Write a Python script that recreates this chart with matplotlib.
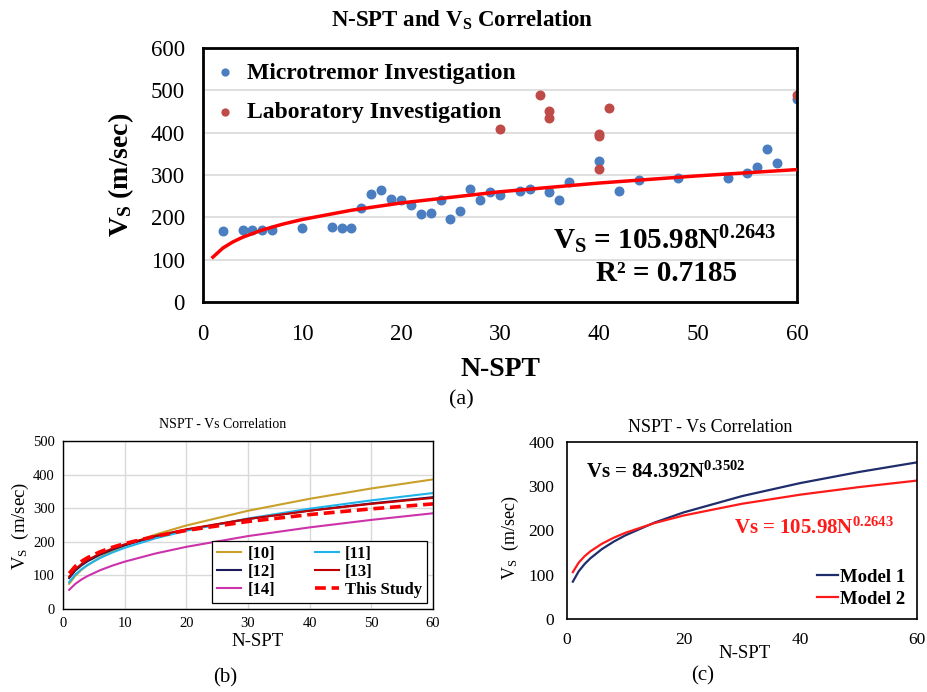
import matplotlib
matplotlib.use("Agg")
import matplotlib.pyplot as plt

plt.rcParams['font.family'] = ['Liberation Serif', 'DejaVu Serif']
plt.rcParams['mathtext.fontset'] = 'custom'
plt.rcParams['mathtext.rm'] = 'Liberation Serif'
plt.rcParams['mathtext.bf'] = 'Liberation Serif:bold'
plt.rcParams['mathtext.it'] = 'Liberation Serif:italic'

# ---- (a) field data ----
micro_n = [2, 4, 5, 6, 7, 10, 13, 14, 15, 16, 17, 18, 19, 20, 21, 22, 23, 24, 25, 26,
           27, 28, 29, 30, 32, 33, 35, 36, 37, 40, 42, 44, 48, 53, 55, 56, 57, 58, 60]
micro_vs = [168, 169, 171, 169, 170, 174, 177, 175, 175, 223, 255, 265, 243, 240, 228, 207,
            210, 241, 196, 214, 266, 242, 260, 252, 262, 268, 260, 240, 283, 334, 263, 289,
            293, 293, 305, 318, 362, 329, 479]
lab_n = [30, 34, 35, 35, 40, 40, 40, 41, 60]
lab_vs = [408, 488, 452, 435, 397, 393, 314, 458, 488]

# curve sample points (N) and Vs read at those points
curve_n = [1, 2, 3, 4, 6, 8, 10, 15, 20, 30, 40, 50, 60]
this_study = [106.0, 127.3, 141.7, 152.9, 170.2, 183.6, 194.8, 216.8, 233.9, 260.4, 281.0, 298.0, 312.8]
ref10 = [75.0, 99.0, 116.4, 130.6, 153.6, 172.3, 188.4, 221.6, 248.6, 292.4, 328.0, 358.7, 385.7]
ref11 = [80.0, 102.5, 118.4, 131.2, 151.7, 168.1, 182.0, 210.4, 233.1, 269.4, 298.5, 323.3, 345.1]
ref12 = [92.0, 114.4, 129.9, 142.2, 161.5, 176.7, 189.6, 215.3, 235.7, 267.7, 293.0, 314.2, 332.8]
ref13 = [96.0, 118.3, 133.8, 145.9, 164.9, 179.9, 192.4, 217.5, 237.2, 268.1, 292.5, 312.9, 330.6]
ref14 = [57.0, 74.8, 87.8, 98.3, 115.3, 129.1, 140.9, 165.2, 185.0, 217.0, 242.9, 265.2, 284.9]
model1 = [84.4, 107.6, 124.0, 137.1, 158.1, 174.8, 189.0, 217.9, 240.9, 277.7, 307.2, 332.1, 354.0]
model2 = this_study

W, H = 928, 692
fig = plt.figure(figsize=(W / 100, H / 100), dpi=100)

def frac(x, y):
    return x / W, 1 - y / H

# ================= (a) =================
ax = fig.add_axes([203 / W, 1 - 302 / H, 594 / W, 254 / H])
ax.scatter(micro_n, micro_vs, s=38, color='#4A7EC0', zorder=2, label='Microtremor Investigation')
ax.scatter(lab_n, lab_vs, s=38, color='#BE4B48', zorder=2.5, label='Laboratory Investigation')
ax.plot(curve_n, this_study, color='#FF0000', lw=2.5, zorder=3)
ax.set_xlim(0, 60)
ax.set_ylim(0, 600)
ax.set_xticks(range(0, 61, 10))
ax.set_yticks(range(0, 601, 100))
ax.yaxis.grid(True, color='#D9D9D9', lw=1.2)
ax.set_axisbelow(True)
ax.tick_params(axis='y', length=0, labelsize=16.5, pad=13)
ax.tick_params(axis='x', length=0, labelsize=16.5, pad=16)
for s in ax.spines.values():
    s.set_color('black')
    s.set_linewidth(2)
ax.legend(loc='upper left', frameon=False, prop={'weight': 'bold', 'size': 17},
          handletextpad=-0.1, labelspacing=0.75, borderaxespad=0.3, markerscale=0.8,
          bbox_to_anchor=(-0.03, 1.01))
ax.text(35.4, 147, r"$\mathbf{V_S}$ = 105.98$\mathbf{N^{0.2643}}$", fontsize=21,
        fontweight='bold', ha='left', va='center')
ax.text(46.8, 68, "R² = 0.7185", fontsize=21, fontweight='bold', ha='center', va='center')

fig.text(*frac(462, 20), r"N-SPT and $\mathbf{V_S}$ Correlation", fontsize=16.5,
         fontweight='bold', ha='center', va='center')
fig.text(*frac(500, 369), "N-SPT", fontsize=20, fontweight='bold', ha='center', va='center')
fig.text(*frac(121, 175), r"$\mathbf{V_S}$ (m/sec)", fontsize=20, fontweight='bold',
         ha='center', va='center', rotation=90)
fig.text(*frac(461, 400), "(a)", fontsize=16, ha='center', va='center')

# ================= (b) =================
axb = fig.add_axes([63 / W, 1 - 609 / H, 370 / W, 168 / H])
axb.plot(curve_n, ref10, color='#C9A02C', lw=1.5, label='[10]')
axb.plot(curve_n, ref12, color='#1C1C5C', lw=1.5, label='[12]')
axb.plot(curve_n, ref14, color='#CC33AA', lw=1.5, label='[14]')
axb.plot(curve_n, ref11, color='#1EB4EA', lw=1.5, label='[11]')
axb.plot(curve_n, ref13, color='#C00000', lw=1.5, label='[13]')
axb.plot(curve_n, this_study, color='#FF0000', lw=2.6, ls=(0, (3, 1.6)), label='This Study')
axb.set_xlim(0, 60)
axb.set_ylim(0, 500)
axb.set_xticks(range(0, 61, 10))
axb.set_yticks(range(0, 501, 100))
axb.grid(True, color='#D9D9D9', lw=1)
axb.set_axisbelow(True)
axb.tick_params(length=0, labelsize=10.5, pad=6)
for s in axb.spines.values():
    s.set_color('black')
    s.set_linewidth(1)
lg = axb.legend(loc='lower right', ncol=2, prop={'weight': 'bold', 'size': 12},
                fancybox=False, edgecolor='black', framealpha=1, handlelength=1.45,
                handletextpad=0.35, columnspacing=2.4, labelspacing=0.12,
                borderaxespad=0.35, borderpad=0.3)
lg.get_frame().set_linewidth(0.9)
fig.text(*frac(223, 425), "NSPT - Vs Correlation", fontsize=10, ha='center', va='center')
fig.text(*frac(258, 641), "N-SPT", fontsize=13.5, ha='center', va='center')
fig.text(*frac(20, 526), r"V$_\mathrm{S}$  (m/sec)", fontsize=13.5, ha='center', va='center',
         rotation=90)
fig.text(*frac(225, 678), "(b)", fontsize=15, ha='center', va='center')

# ================= (c) =================
axc = fig.add_axes([567 / W, 1 - 619 / H, 350 / W, 177 / H])
axc.plot(curve_n, model1, color='#1F2D6B', lw=1.6, label='Model 1')
axc.plot(curve_n, model2, color='#FF1A1A', lw=1.6, label='Model 2')
axc.set_xlim(0, 60)
axc.set_ylim(0, 400)
axc.set_xticks(range(0, 61, 20))
axc.set_yticks(range(0, 401, 100))
axc.tick_params(length=0, labelsize=12.5, pad=9)
for s in axc.spines.values():
    s.set_color('black')
    s.set_linewidth(1.2)
axc.legend(loc='lower right', frameon=False, prop={'weight': 'bold', 'size': 13.5},
           handlelength=1.1, handletextpad=0.15, labelspacing=0.25, borderaxespad=0.2)
axc.text(3.2, 332, r"$\mathbf{Vs}$ = 84.392$\mathbf{N^{0.3502}}$", fontsize=15,
         fontweight='bold', ha='left', va='center', color='black')
axc.text(28.6, 205, r"$\mathbf{Vs}$ = 105.98$\mathbf{N^{0.2643}}$", fontsize=15,
         fontweight='bold', ha='left', va='center', color='#FF1A1A')
fig.text(*frac(710, 428), "NSPT - Vs Correlation", fontsize=13, ha='center', va='center')
fig.text(*frac(745, 653), "N-SPT", fontsize=13.5, ha='center', va='center')
fig.text(*frac(510, 538), r"V$_\mathrm{S}$  (m/sec)", fontsize=13, ha='center', va='center',
         rotation=90)
fig.text(*frac(703, 676), "(c)", fontsize=15, ha='center', va='center')

fig.savefig("out.png", dpi=100)
